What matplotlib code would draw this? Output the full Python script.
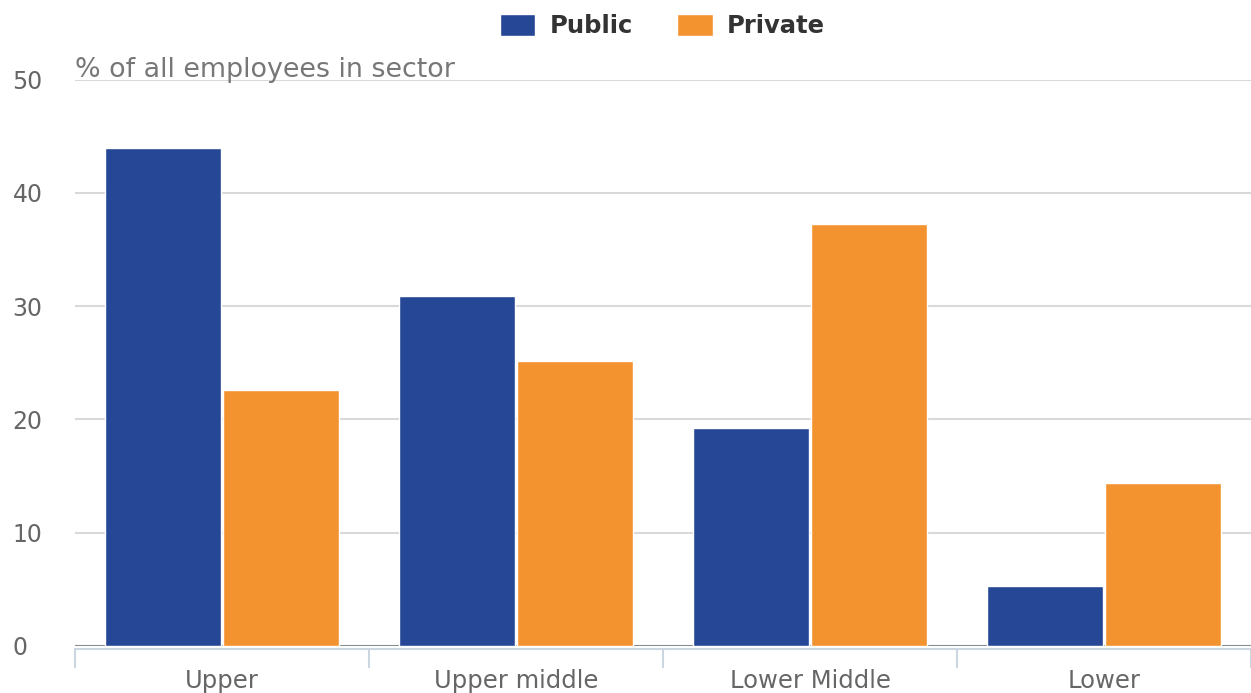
import numpy as np
import matplotlib
matplotlib.use("Agg")
import matplotlib.pyplot as plt

# data
categories = ["Upper", "Upper middle", "Lower Middle", "Lower"]
public = [44.0, 30.9, 19.2, 5.3]
private = [22.6, 25.2, 37.3, 14.4]
yticks = [0, 10, 20, 30, 40, 50]

blue = "#264796"
orange = "#f39330"

fig = plt.figure(figsize=(12.51, 6.93), dpi=100)
ax = fig.add_axes([0.06, 0.068, 0.94, 0.817])

x = np.arange(len(categories))
w = 0.395
ax.bar(x - w / 2 - 0.003, public, w, color=blue, edgecolor="white", linewidth=1, label="Public", zorder=3)
ax.bar(x + w / 2 + 0.003, private, w, color=orange, edgecolor="white", linewidth=1, label="Private", zorder=3)

ax.set_xlim(-0.5, len(categories) - 0.5)
ax.set_ylim(0, 50)
ax.set_yticks(yticks)
ax.yaxis.grid(True, color="#d9d9d9", linewidth=1.5, zorder=0)
ax.axhline(0, color="#858d93", linewidth=2.2, zorder=2.5)

for s in ["top", "right", "left"]:
    ax.spines[s].set_visible(False)
ax.spines["bottom"].set_color("#ccd6e0")
ax.spines["bottom"].set_linewidth(1.5)
ax.spines["bottom"].set_position(("outward", 2))

ax.set_xticks(x)
ax.set_xticklabels(categories)
ax.set_xticks(np.arange(-0.5, len(categories)), minor=True)
ax.tick_params(axis="x", which="major", length=0, pad=15, labelsize=17.5, labelcolor="#666666")
ax.tick_params(axis="x", which="minor", length=14, width=1.5, color="#ccd6e0")
ax.tick_params(axis="y", length=0, pad=45, labelsize=17, labelcolor="#666666")
for t in ax.get_yticklabels():
    t.set_horizontalalignment("left")

ax.text(0.0, 0.995, "% of all employees in sector", transform=ax.transAxes,
        fontsize=19.4, color="#777777", ha="left", va="bottom")

leg = fig.legend(loc="upper center", bbox_to_anchor=(0.5296, 1.012), ncol=2, frameon=False,
                 prop={"weight": "bold", "size": 17.5}, handlelength=1.45, handleheight=1.05,
                 columnspacing=1.82, handletextpad=0.6)
for t in leg.get_texts():
    t.set_color("#333333")

fig.savefig("out.png", dpi=100)
